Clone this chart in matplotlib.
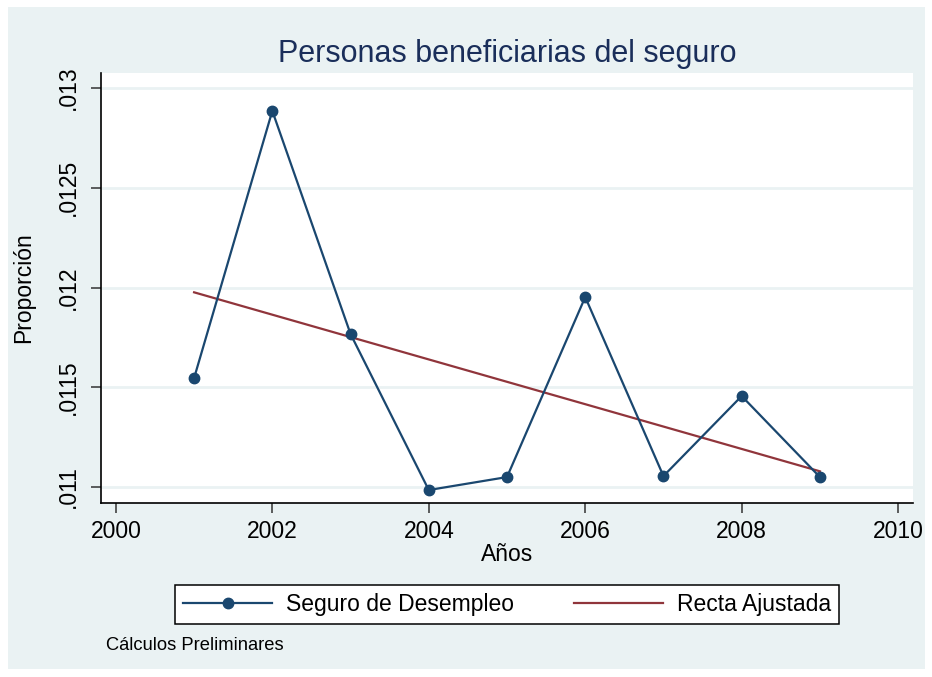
import matplotlib.pyplot as plt
import numpy as np
from matplotlib.patches import Rectangle

plt.rcParams['font.family'] = ['Liberation Sans', 'DejaVu Sans']

years = [2001, 2002, 2003, 2004, 2005, 2006, 2007, 2008, 2009]
proporcion = [0.011546, 0.012885, 0.011767, 0.010985, 0.011050,
              0.011952, 0.011055, 0.011456, 0.011050]
yticks = [0.011, 0.0115, 0.012, 0.0125, 0.013]
ytick_labels = [".011", ".0115", ".012", ".0125", ".013"]
xticks = [2000, 2002, 2004, 2006, 2008, 2010]

navy = "#1A476F"
maroon = "#90353B"
bg = "#EAF2F3"

fig = plt.figure(figsize=(9.32, 6.77), dpi=100, facecolor="white")
fig.patches.append(Rectangle((8 / 932, 8 / 677), 917 / 932, 662 / 677,
                             transform=fig.transFigure, facecolor=bg,
                             edgecolor="none", zorder=-10))

ax = fig.add_axes([101 / 932, 1 - 503 / 677, 812 / 932, 430 / 677])
ax.set_facecolor("white")

# fitted line
coef = np.polyfit(years, proporcion, 1)
fit = np.polyval(coef, years)

ax.plot(years, proporcion, color=navy, lw=1.6, marker="o", ms=7.5,
        label="Seguro de Desempleo", zorder=3)
ax.plot(years, fit, color=maroon, lw=1.6, label="Recta Ajustada", zorder=2)

ax.set_xlim(1999.81, 2010.19)
ax.set_ylim(0.01092, 0.013075)
ax.set_xticks(xticks)
ax.set_yticks(yticks)
ax.set_yticklabels(ytick_labels, rotation=90, va="center")
ax.grid(axis="y", color=bg, lw=2)
ax.set_axisbelow(True)

for s in ["top", "right"]:
    ax.spines[s].set_visible(False)
for s in ["left", "bottom"]:
    ax.spines[s].set_color("black")
    ax.spines[s].set_linewidth(1.2)

ax.tick_params(axis="both", labelsize=16.5, length=7, width=1.1,
               color="#333333", pad=5)
ax.tick_params(axis="y", pad=8)

ax.set_xlabel("Años", fontsize=16.5, labelpad=0)
ax.set_ylabel("Proporción", fontsize=16.5, labelpad=16)
ax.set_title("Personas beneficiarias del seguro", fontsize=22,
             color="#1A2E5A", pad=8)

leg = ax.legend(loc="center", bbox_to_anchor=(0.5, -0.237), ncol=2,
                fontsize=16.5, frameon=True, fancybox=False, framealpha=1,
                edgecolor="black", handlelength=3.9, columnspacing=2.6,
                borderpad=0.35, handletextpad=0.6)
leg.get_frame().set_linewidth(1.1)

fig.text(106 / 932, 1 - 645 / 677, "Cálculos Preliminares", fontsize=13.2,
         va="center", ha="left")

fig.savefig("out.png", dpi=100, facecolor="white")
